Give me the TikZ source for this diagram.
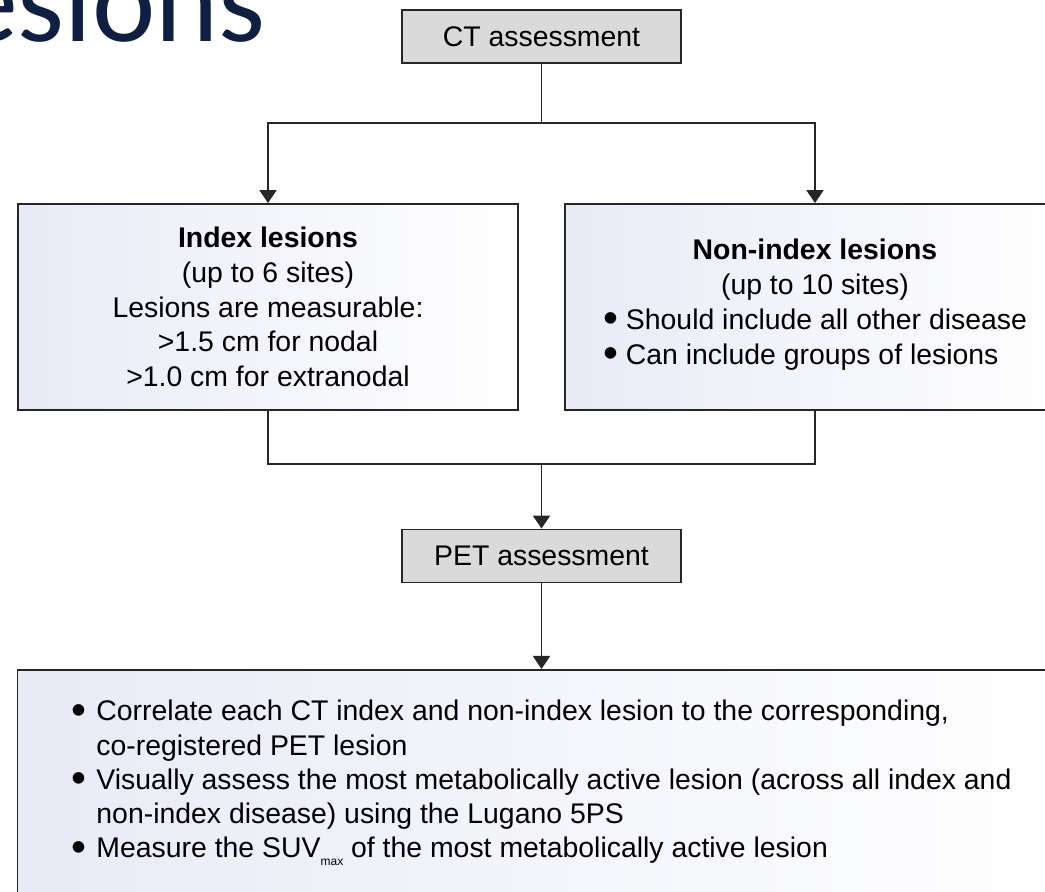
\documentclass[tikz,border=0pt]{standalone}
\usepackage{fontspec}
\setmainfont{Liberation Sans}
\newfontfamily\headfont{Carlito}
\usetikzlibrary{positioning,arrows.meta}
\definecolor{titleblue}{HTML}{0E1F42}
\definecolor{assessgray}{HTML}{DADADA}
\definecolor{lesiontint}{HTML}{E8EBF6}
\tikzset{
  assessbox/.style={draw=black!85, line width=0.9pt, fill=assessgray, minimum width=139.5pt, minimum height=26.5pt, inner sep=0pt, font=\fontsize{14.2}{17.4}\selectfont},
  lesionbox/.style={draw=black!85, line width=0.9pt, left color=lesiontint, right color=white, minimum width=250pt, minimum height=103pt, align=center, inner sep=0pt, font=\fontsize{14.2}{17.4}\selectfont},
  flow/.style={draw=black!85, line width=0.9pt},
  flowarrow/.style={flow, -{Triangle[width=8.5pt,length=6.5pt]}}
}
\newcommand{\lbullet}{\raisebox{-0.12em}{\scalebox{1.5}{\textbullet}}}

\begin{document}
\begin{tikzpicture}[x=0.5pt, y=-0.5pt]
	\useasboundingbox (0,0) rectangle (1045,892);
	\fill[white] (0,0) rectangle (1045,892);
	\clip (0,0) rectangle (1045,892);
	\node [anchor=base east, inner sep=0pt, text=titleblue, font=\headfont\fontsize{60}{60}\selectfont] (title) at (266,42) {esions};
	% assessments
	\node [assessbox] (ct) at (541.5,36.5) {CT assessment};
	\node [assessbox] (pet) at (541.5,556) {PET assessment};
	% lesion boxes
	\node [lesionbox] (idx) at (268,307) {\textbf{Index lesions}\\(up to 6 sites)\\Lesions are measurable:\\>1.5 cm for nodal\\>1.0 cm for extranodal};
	\node [lesionbox] (nonidx) at (815,307) {\textbf{Non-index lesions}\\(up to 10 sites)\\\begin{tabular}[t]{@{}l@{\hspace{4pt}}l@{}}\lbullet & Should include all other disease\\\lbullet & Can include groups of lesions\end{tabular}};
	\node [lesionbox, minimum width=524pt, anchor=north, inner ysep=13.5pt, text depth=110pt, font=\fontsize{14.2}{17.1}\selectfont] (corr) at (541.5,669) {\begin{tabular}[t]{@{}l@{\hspace{5pt}}l@{}}\lbullet & Correlate each CT index and non-index lesion to the corresponding,\\ & co-registered PET lesion\\\lbullet & Visually assess the most metabolically active lesion (across all index and\\ & non-index disease) using the Lugano 5PS\\\lbullet & Measure the SUV\raisebox{-0.55ex}{\fontsize{6}{6}\selectfont max} of the most metabolically active lesion\end{tabular}};
	% connectors
	\coordinate (split) at (541.5,123);
	\coordinate (merge) at (541.5,464);
	\draw [flow] (ct) -- (split);
	\draw [flowarrow] (split) -| (idx.north);
	\draw [flowarrow] (split) -| (nonidx.north);
	\draw [flow] (idx.south) |- (merge);
	\draw [flow] (nonidx.south) |- (merge);
	\draw [flowarrow] (merge) -- (pet.north);
	\draw [flowarrow] (pet.south) -- (corr.north);
\end{tikzpicture}
\end{document}
